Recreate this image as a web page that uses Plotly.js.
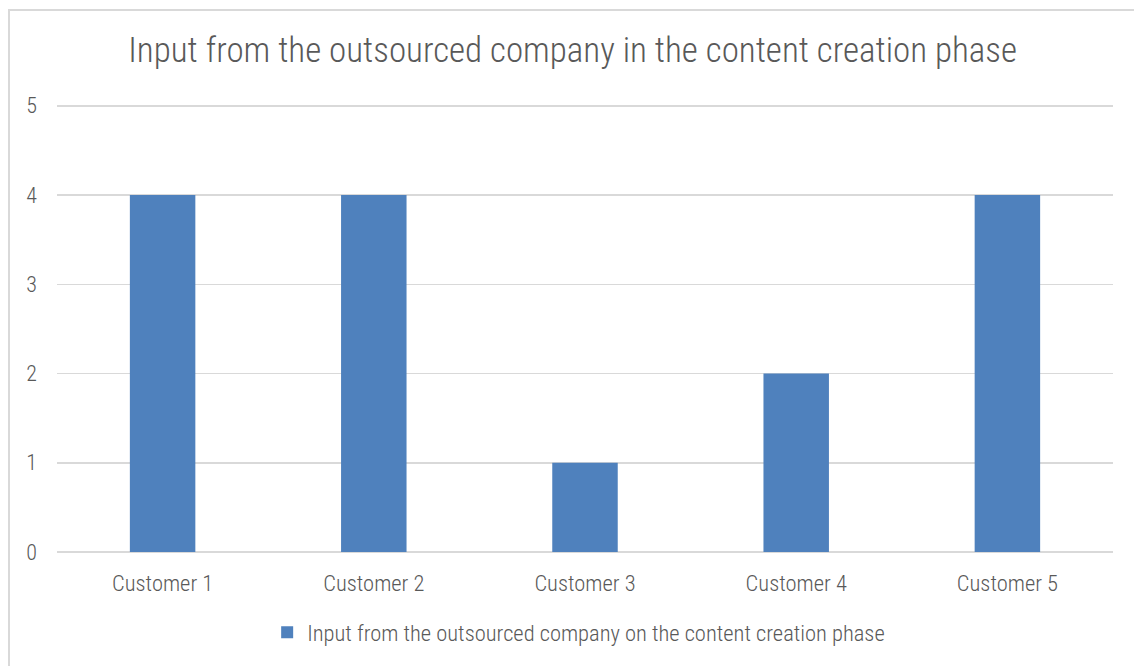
<!DOCTYPE html>
<html>
<head>
<meta charset="utf-8">
<script src="https://cdn.plot.ly/plotly-3.0.1.min.js"></script>
<style>
html,body{margin:0;padding:0;background:#fff;overflow:hidden;}
#frame{position:absolute;left:8px;top:9px;width:1140px;height:670px;border:2px solid #d9d9d9;box-sizing:border-box;}
#chart{position:absolute;left:0;top:0;width:1134px;height:666px;}
</style>
</head>
<body>
<div id="frame"></div>
<div id="chart"></div>
<script>
const categories = ["Customer 1", "Customer 2", "Customer 3", "Customer 4", "Customer 5"];
const values = [4, 4, 1, 2, 4];
const seriesName = "Input from the outsourced company on the content creation phase";
const chartTitle = "Input from the outsourced company in the content creation phase";

const FONT = "'Roboto Condensed', 'Liberation Sans Narrow', 'Arial Narrow', sans-serif";
const TXT = "#595959";

Plotly.newPlot("chart", [{
  type: "bar",
  x: categories,
  y: values,
  name: seriesName,
  marker: {color: "#4F81BD"},
  showlegend: true
}], {
  width: 1134, height: 666,
  paper_bgcolor: "rgba(0,0,0,0)",
  plot_bgcolor: "rgba(0,0,0,0)",
  margin: {l: 57, r: 21, t: 104, b: 112},
  font: {family: FONT, color: TXT, size: 22, weight: 300},
  title: {text: chartTitle, font: {family: FONT, size: 35, color: TXT, weight: 300}, x: 0.505, xanchor: "center", y: 0.925, yanchor: "middle"},
  bargap: 0.69,
  xaxis: {
    showgrid: false, showline: false, zeroline: false,
    tickfont: {family: FONT, size: 22.5, color: TXT, weight: 300},
    ticks: "", ticklabelstandoff: 15
  },
  yaxis: {
    range: [0, 5.02], tickvals: [0, 1, 2, 3, 4, 5],
    showgrid: true, gridcolor: "#d9d9d9", gridwidth: 1.5,
    zeroline: true, zerolinecolor: "#d9d9d9", zerolinewidth: 1.5,
    showline: false, ticks: "",
    tickfont: {family: FONT, size: 22, color: TXT, weight: 300},
    ticklabelstandoff: 19
  },
  legend: {
    orientation: "h", x: 0.494, xanchor: "center", y: -0.18, yanchor: "middle",
    itemwidth: 30,
    font: {family: FONT, size: 22.5, color: TXT, weight: 300}
  }
}, {displayModeBar: false, staticPlot: true});
</script>
</body>
</html>
